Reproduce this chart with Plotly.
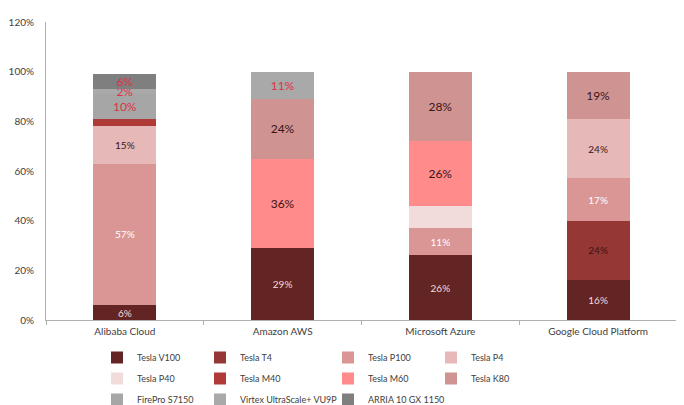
import plotly.graph_objects as go

# ---------------- data ----------------
categories = ["Alibaba Cloud", "Amazon AWS", "Microsoft Azure", "Google Cloud Platform"]

series_names = [
    "Tesla V100", "Tesla T4", "Tesla P100", "Tesla P4",
    "Tesla P40", "Tesla M40", "Tesla M60", "Tesla K80",
    "FirePro S7150", "Virtex UltraScale+ VU9P", "ARRIA 10 GX 1150",
]

tesla_v100 = [6, 29, 26, 16]
tesla_t4 = [0, 0, 0, 24]
tesla_p100 = [57, 0, 11, 17]
tesla_p4 = [15, 0, 0, 24]
tesla_p40 = [0, 0, 9, 0]
tesla_m40 = [3, 0, 0, 0]
tesla_m60 = [0, 36, 26, 0]
tesla_k80 = [0, 24, 28, 19]
firepro_s7150 = [10, 0, 0, 0]
virtex_vu9p = [2, 11, 0, 0]
arria_10 = [6, 0, 0, 0]

series_values = [
    tesla_v100, tesla_t4, tesla_p100, tesla_p4,
    tesla_p40, tesla_m40, tesla_m60, tesla_k80,
    firepro_s7150, virtex_vu9p, arria_10,
]

# series whose data labels are shown in the reference
labelled = [True, True, True, True, False, False, True, True, True, True, True]

y_ticks = [0, 20, 40, 60, 80, 100, 120]
y_tick_labels = ["0%", "20%", "40%", "60%", "80%", "100%", "120%"]

# ---------------- styles ----------------
FONT = "Lato"
series_colors = [
    "#632523", "#953735", "#d99694", "#e6b9b8",
    "#f2dcdb", "#b03a38", "#ff8b8b", "#cf9392",
    "#a6a6a6", "#a9a9a9", "#7f7f7f",
]
label_colors = [
    "#f2dcdb", "#3a1414", "#ffffff", "#3a1414",
    "#3a1414", "#3a1414", "#3a1414", "#3a1414",
    "#dd3344", "#dd3344", "#dd3344",
]
label_sizes = [10, 10, 10, 10, 10, 10, 12, 12, 12, 12, 12]

legend_ids = ["legend", "legend2", "legend3", "legend4"]

fig = go.Figure()
for i, (name, vals) in enumerate(zip(series_names, series_values)):
    text = [f"{v}%" if (labelled[i] and v > 0) else "" for v in vals]
    fig.add_trace(go.Bar(
        x=categories, y=vals, name=name,
        marker=dict(color=series_colors[i], line=dict(width=0)),
        text=text, textposition="inside", insidetextanchor="middle",
        textangle=0, constraintext="none",
        textfont=dict(color=label_colors[i], size=label_sizes[i], family=FONT),
        legend=legend_ids[i % 4], legendgroup=name,
        hoverinfo="skip",
    ))

# figure is drawn inside the page body (8px default margin)
plot_l, plot_w, plot_b, plot_h = 38, 631, 312, 298

layout = dict(
    width=676, height=397,
    barmode="stack", bargap=0.6,
    paper_bgcolor="white", plot_bgcolor="white",
    font=dict(family=FONT, size=10, color="#404040"),
    margin=dict(l=38, r=7, t=14, b=85, autoexpand=False),
    xaxis=dict(
        showline=True, linecolor="#b0b0b0", linewidth=1,
        ticks="outside", tickson="boundaries", ticklen=4, tickcolor="#b0b0b0",
        tickfont=dict(size=10, color="#404040"), showgrid=False,
        automargin=False, ticklabelstandoff=2,
    ),
    yaxis=dict(
        range=[0, 120], tickvals=y_ticks, ticktext=y_tick_labels,
        showline=True, linecolor="#b0b0b0", linewidth=1,
        showgrid=False, zeroline=False, ticks="",
        ticklabelstandoff=9, automargin=False,
        tickfont=dict(size=10, color="#404040"),
    ),
)

legend_x_px = [89, 192, 320, 423]
for k, lid in enumerate(legend_ids):
    layout[lid] = dict(
        x=(legend_x_px[k] - plot_l) / plot_w,
        y=(plot_b - 335) / plot_h,
        xanchor="left", yanchor="top", orientation="v",
        font=dict(size=9, color="#404040", family=FONT),
        bgcolor="rgba(0,0,0,0)", tracegroupgap=2, borderwidth=0,
    )

fig.update_layout(**layout)
fig.write_html("out.html")
